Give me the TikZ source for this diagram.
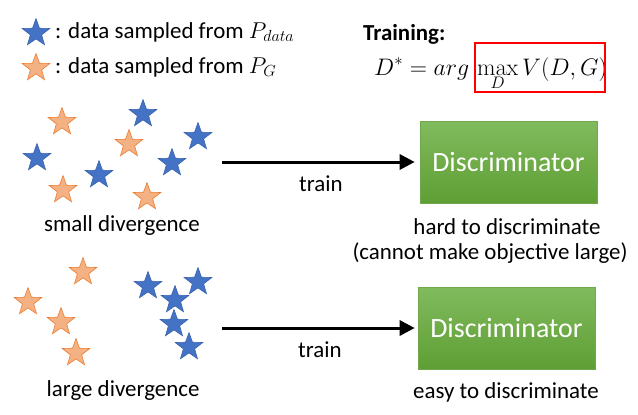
\documentclass[tikz,border=0pt]{standalone}
\usepackage{fix-cm}
\usepackage[no-math]{fontspec}
\setmainfont{Carlito}
\usetikzlibrary{shapes.geometric,arrows.meta}

\definecolor{starblue}{HTML}{4472C4}
\definecolor{starblueedge}{HTML}{3A64B0}
\definecolor{starorange}{HTML}{F4B183}
\definecolor{starorangeedge}{HTML}{ED7D31}
\definecolor{discrtop}{HTML}{80BB5D}
\definecolor{discrbot}{HTML}{5F9E34}
\definecolor{discredge}{HTML}{6FA94C}

\tikzset{
  starbase/.style={star, star points=5, star point ratio=2.45, minimum size=29bp,
    inner sep=0pt, line width=0.6bp},
  bstar/.style={starbase, fill=starblue, draw=starblueedge},
  ostar/.style={starbase, fill=starorange, draw=starorangeedge},
  body/.style={font=\fontsize{23}{27}\selectfont, inner sep=0pt},
  discr/.style={rectangle, minimum width=177bp, minimum height=82bp, inner sep=0pt,
    top color=discrtop, bottom color=discrbot, draw=discredge, line width=0.6bp,
    text=white, font=\fontsize{28}{32}\selectfont},
  trainarrow/.style={line width=3bp, -{Triangle[length=15bp,width=15bp]}},
}

\begin{document}
\begin{tikzpicture}[x=1bp, y=-1bp]
  \useasboundingbox (0,0) rectangle (638,414);
  \fill[white] (0,0) rectangle (638,414);

  % legend
  \node[bstar] (legb) at (36,33) {};
  \node[ostar] (lego) at (36,68) {};
  \node[body, anchor=base west] (legbt) at (55,38) {: data sampled from $P_{data}$};
  \node[body, anchor=base west] (legot) at (55,73) {: data sampled from $P_{G}$};

  % training objective
  \node[body, anchor=base west, font=\bfseries\fontsize{23}{27}\selectfont] (trn) at (363,40) {Training:};
  \node[body, anchor=base west, font=\fontsize{24}{28}\selectfont] (obj) at (374,75)
    {$\displaystyle D^{*} = arg\,\max_{D} V(D,G)$};
  \node[draw=red, line width=2bp, rectangle, minimum width=130bp, minimum height=49bp,
        inner sep=0pt] (maxbox) at (540,67.5) {};

  % small divergence samples
  \node[ostar] (s1) at (62,122) {};
  \node[bstar] (s2) at (143,114) {};
  \node[ostar] (s3) at (129,144) {};
  \node[bstar] (s4) at (198,137) {};
  \node[bstar] (s5) at (37,158) {};
  \node[bstar] (s6) at (172,163) {};
  \node[bstar] (s7) at (99,175) {};
  \node[ostar] (s8) at (63,190) {};
  \node[ostar] (s9) at (147,197) {};
  \node[body] (smalllbl) at (122,226) {small divergence};

  % large divergence samples
  \node[ostar] (l1) at (83,272) {};
  \node[ostar] (l2) at (28,302) {};
  \node[ostar] (l3) at (61,322) {};
  \node[ostar] (l4) at (76,353) {};
  \node[bstar] (l5) at (148,286) {};
  \node[bstar] (l6) at (198,282) {};
  \node[bstar] (l7) at (175,300) {};
  \node[bstar] (l8) at (174,324) {};
  \node[bstar] (l9) at (189,347) {};
  \node[body] (largelbl) at (123,391) {large divergence};

  % discriminators
  \node[discr] (d1) at (508.5,162) {Discriminator};
  \node[discr] (d2) at (506.5,328) {Discriminator};
  \node[body] (d1lbl) at (507,227) {hard to discriminate};
  \node[body] (d1lbl2) at (490,253) {(cannot make objective large)};
  \node[body] (d2lbl) at (506,392) {easy to discriminate};

  % training arrows
  \coordinate (a1) at (222,162);
  \coordinate (a2) at (222,328);
  \draw[trainarrow, shorten >=5bp] (a1) -- node[body, below=12bp] (t1) {train} (d1.west);
  \draw[trainarrow, shorten >=3bp] (a2) -- node[body, below=12bp] (t2) {train} (d2.west);
\end{tikzpicture}
\end{document}
